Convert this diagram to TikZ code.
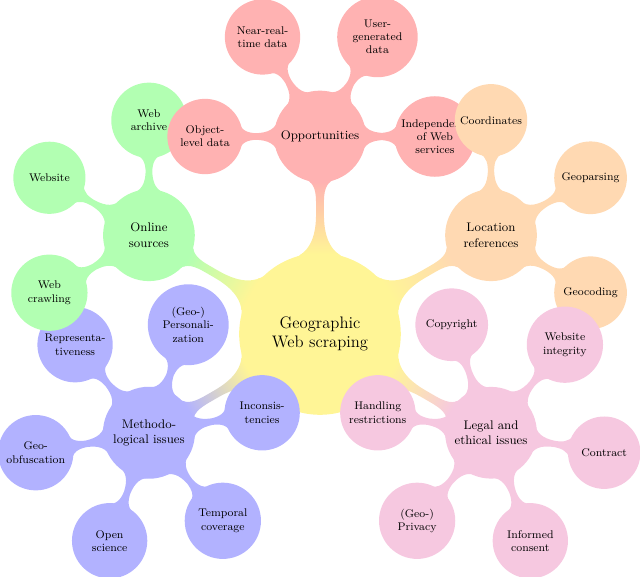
\documentclass[tikz,border=0pt]{standalone}
\usetikzlibrary{mindmap}
\definecolor{rootcol}{RGB}{255,245,150}
\definecolor{oppcol}{RGB}{255,178,178}
\definecolor{onlcol}{RGB}{178,255,178}
\definecolor{loccol}{RGB}{255,217,178}
\definecolor{metcol}{RGB}{178,178,255}
\definecolor{legcol}{RGB}{246,200,224}
\begin{document}
\begin{tikzpicture}[mindmap, concept color=rootcol, text=black,
  root concept/.append style={minimum size=4.05cm, text width=3.6cm, font=\large},
  level 1 concept/.append style={minimum size=2.28cm, text width=2.1cm, font=\small},
  level 2 concept/.append style={minimum size=1.77cm, text width=1.7cm, font=\footnotesize},
  level 1/.append style={level distance=5cm},
  level 2/.append style={level distance=2.91cm}]
\useasboundingbox (0,0) rectangle (16.203,-14.608);
\node[concept, root concept] (root) at (8.101,-8.456) {Geographic\\Web scraping}
  child[grow=210, concept color=metcol] {node[concept] (met) {Methodo-\\logical issues}
    child[grow=10] {node[concept] (incons) {Inconsis-\\tencies}}
    child[grow=70] {node[concept] (pers) {(Geo-)\\Personali-\\zation}}
    child[grow=130] {node[concept] (repr) {Representa-\\tiveness}}
    child[grow=190] {node[concept] (obf) {Geo-\\obfuscation}}
    child[grow=250] {node[concept] (open) {Open\\science}}
    child[grow=310] {node[concept] (temp) {Temporal\\coverage}}
  }
  child[grow=150, concept color=onlcol] {node[concept] (onl) {Online\\sources}
    child[grow=90] {node[concept] (arch) {Web\\archive}}
    child[grow=150] {node[concept] (site) {Website}}
    child[grow=210] {node[concept] (crawl) {Web\\crawling}}
  }
  child[grow=90, concept color=oppcol] {node[concept] (opp) {Opportunities}
    child[grow=180] {node[concept] (obj) {Object-\\level data}}
    child[grow=120] {node[concept] (nrt) {Near-real-\\time data}}
    child[grow=60] {node[concept] (ugd) {User-\\generated\\data}}
    child[grow=0] {node[concept] (indep) {Independence\\of Web\\services}}
  }
  child[grow=30, concept color=loccol] {node[concept] (loc) {Location\\references}
    child[grow=90] {node[concept] (coord) {Coordinates}}
    child[grow=30] {node[concept] (gparse) {Geoparsing}}
    child[grow=-30] {node[concept] (gcode) {Geocoding}}
  }
  child[grow=-30, concept color=legcol] {node[concept] (leg) {Legal and\\ethical issues}
    child[grow=110] {node[concept] (copy) {Copyright}}
    child[grow=50] {node[concept] (integ) {Website\\integrity}}
    child[grow=-10] {node[concept] (contr) {Contract}}
    child[grow=-70] {node[concept] (inf) {Informed\\consent}}
    child[grow=-130] {node[concept] (priv) {(Geo-)\\Privacy}}
    child[grow=170] {node[concept] (hand) {Handling\\restrictions}}
  };
\end{tikzpicture}
\end{document}
